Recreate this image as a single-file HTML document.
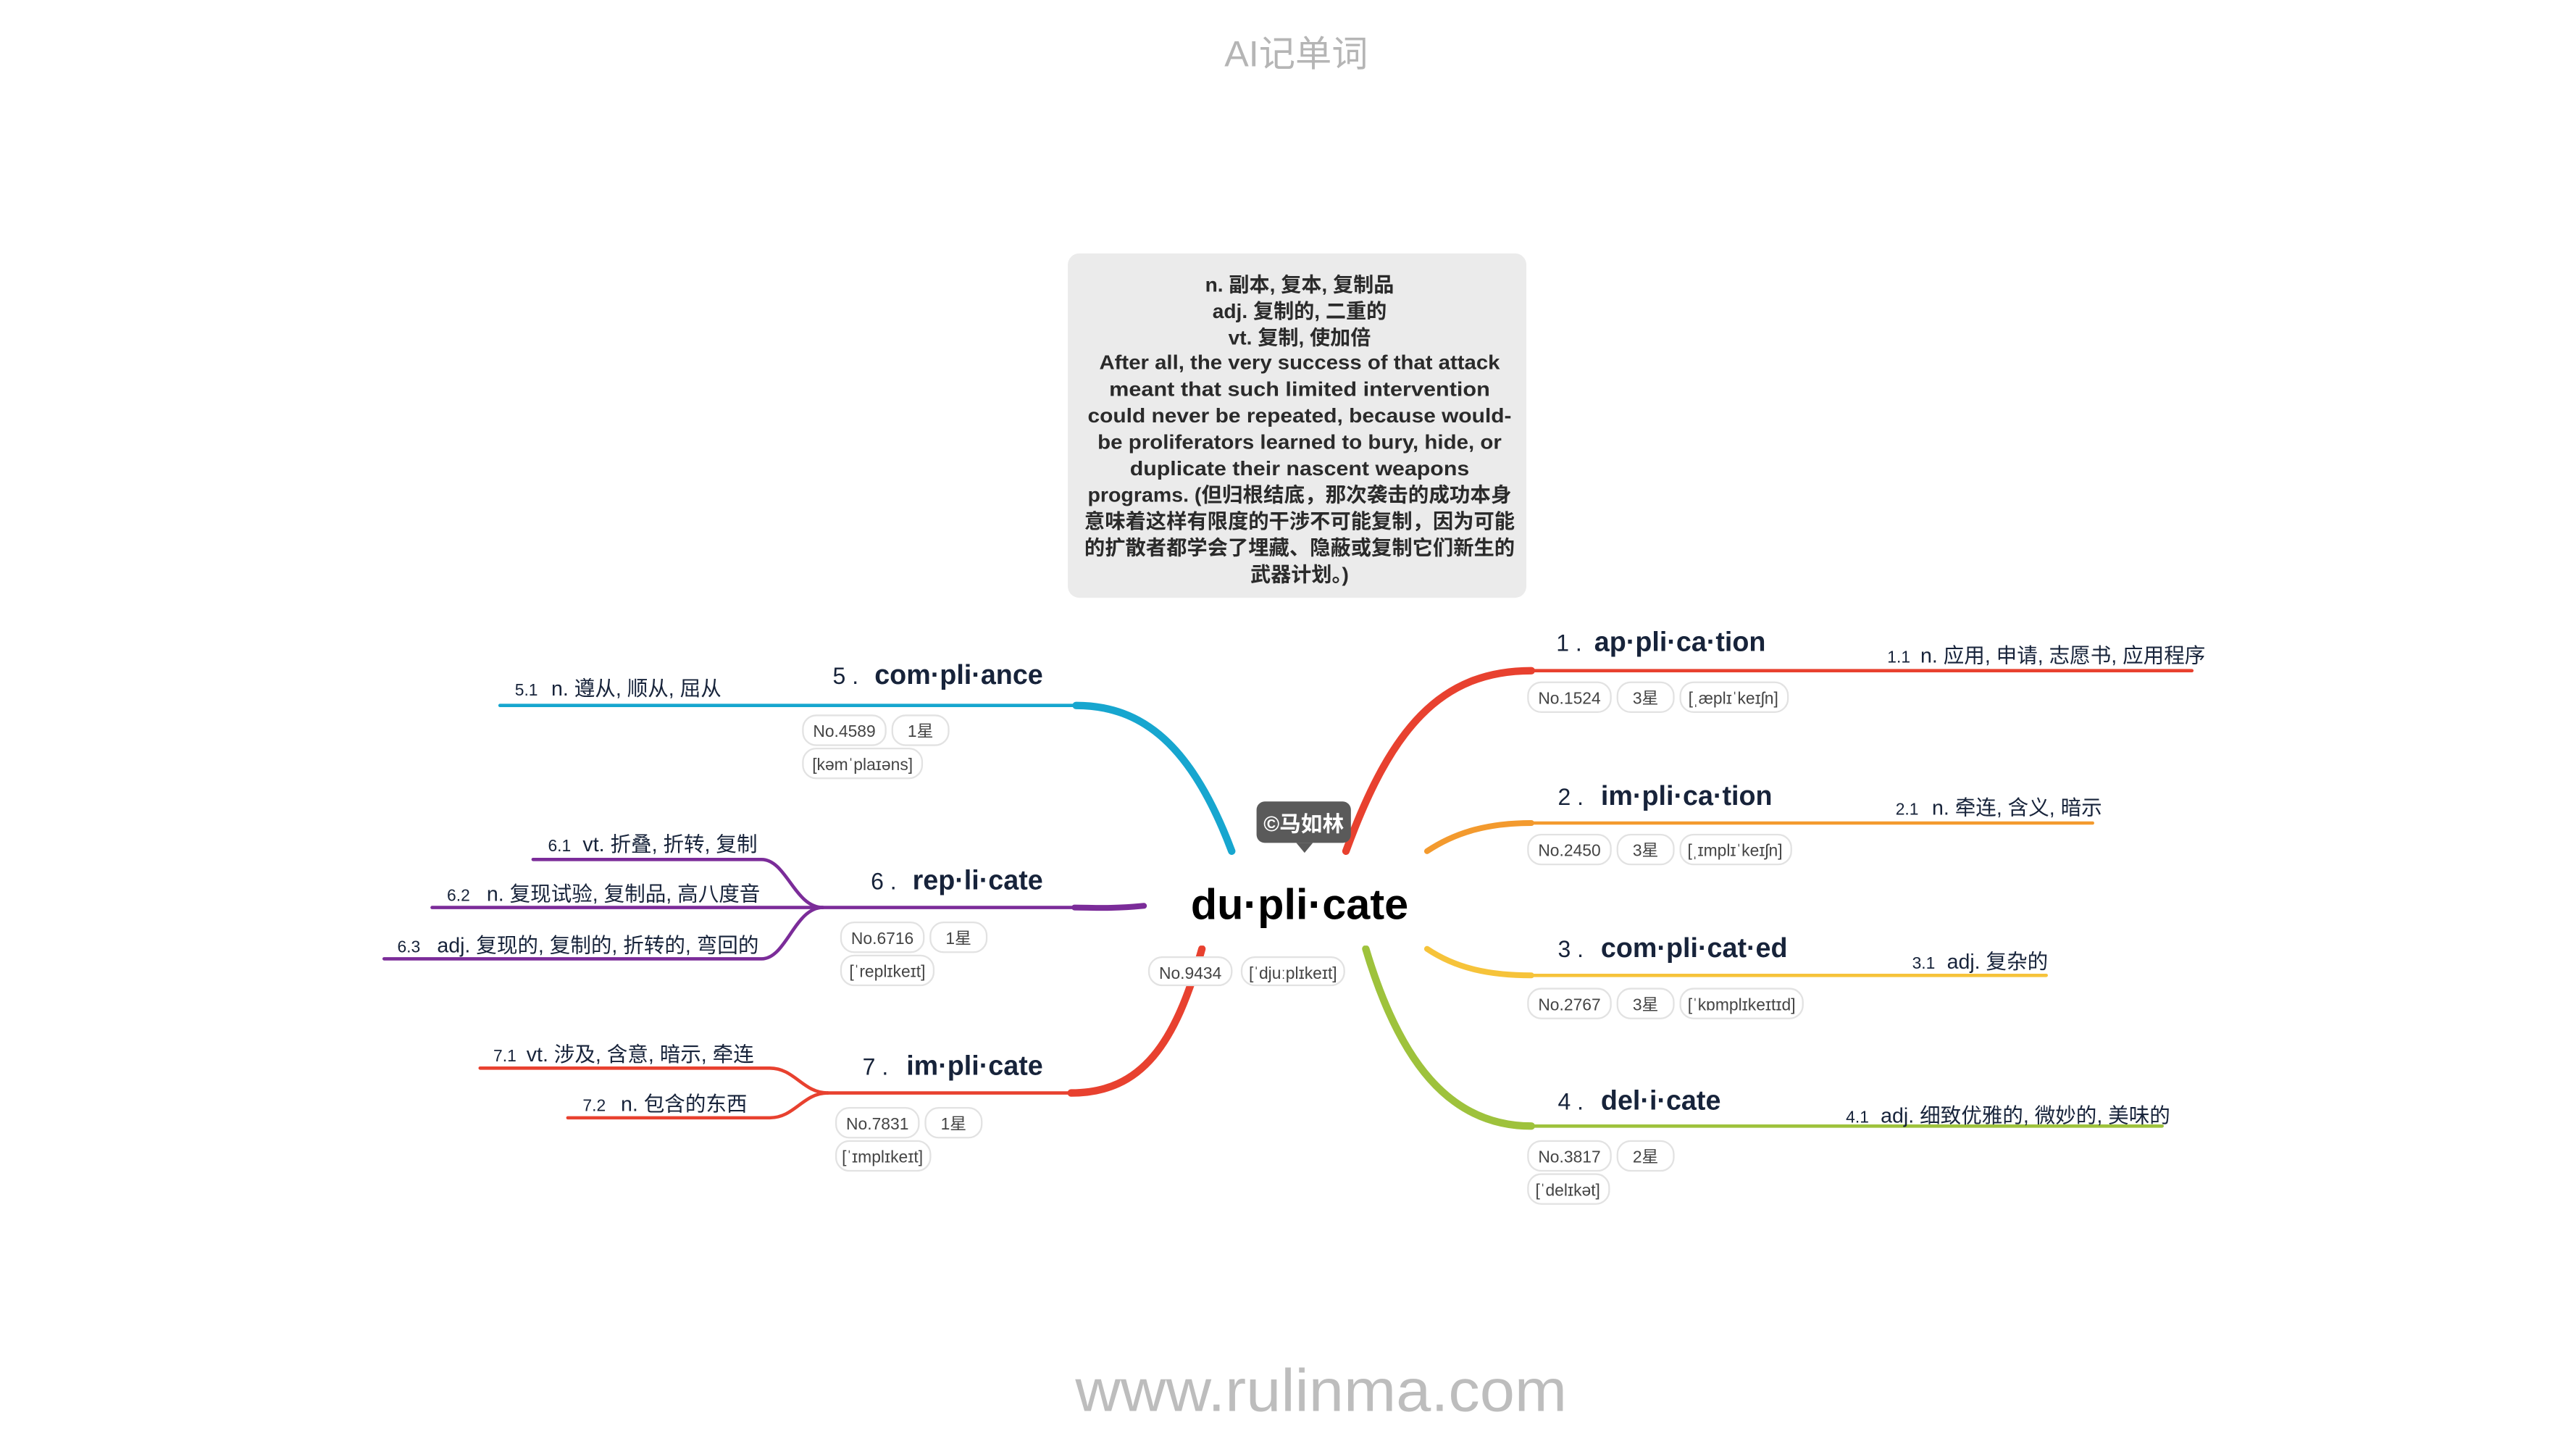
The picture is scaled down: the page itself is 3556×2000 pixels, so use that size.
<!DOCTYPE html>
<html><head><meta charset="utf-8">
<style>
html,body{margin:0;padding:0;background:#fff;}
svg{display:block;}
text{font-family:"Liberation Sans","Noto Sans CJK SC",sans-serif;}
.h{font-weight:bold;font-size:16.5px;fill:#17233a;}
.num{font-size:14px;fill:#17233a;}
.sn{font-size:10px;fill:#17233a;}
.st{font-size:12.5px;fill:#17233a;}
.pill rect{fill:#fff;stroke:#e2e2e2;stroke-width:1;}
.pill text{font-size:10px;fill:#444;text-anchor:middle;}
.box text{font-weight:bold;font-size:12.3px;fill:#2a2a2a;text-anchor:middle;}
</style></head>
<body>
<svg width="3556" height="2000" viewBox="0 0 1556 875" preserveAspectRatio="none">
<text x="783" y="40" text-anchor="middle" font-size="22" fill="#b5b5b5">AI记单词</text>

<g class="box">
<rect x="645" y="153" width="277" height="208" rx="7" fill="#ebebeb"/>
<text x="785" y="176">n. 副本, 复本, 复制品</text>
<text x="785" y="192">adj. 复制的, 二重的</text>
<text x="785" y="208">vt. 复制, 使加倍</text>
<text x="785" y="223" textLength="242" lengthAdjust="spacingAndGlyphs">After all, the very success of that attack</text>
<text x="785" y="239" textLength="230" lengthAdjust="spacingAndGlyphs">meant that such limited intervention</text>
<text x="785" y="255" textLength="256" lengthAdjust="spacingAndGlyphs">could never be repeated, because would-</text>
<text x="785" y="271" textLength="244" lengthAdjust="spacingAndGlyphs">be proliferators learned to bury, hide, or</text>
<text x="785" y="287" textLength="205" lengthAdjust="spacingAndGlyphs">duplicate their nascent weapons</text>
<text x="785" y="303" textLength="256" lengthAdjust="spacingAndGlyphs">programs. (但归根结底，那次袭击的成功本身</text>
<text x="785" y="319" textLength="260" lengthAdjust="spacingAndGlyphs">意味着这样有限度的干涉不可能复制，因为可能</text>
<text x="785" y="335" textLength="260" lengthAdjust="spacingAndGlyphs">的扩散者都学会了埋藏、隐蔽或复制它们新生的</text>
<text x="785" y="351">武器计划。)</text>
</g>

<g fill="none" stroke-linecap="round">
<path d="M813,514 C840,440 870,405 925,405" stroke="#e8412f" stroke-width="4.5"/>
<path d="M925,405 L1324,405" stroke="#e8412f" stroke-width="2"/>
<path d="M862,514 C880,502 900,497 925,497" stroke="#f39a2e" stroke-width="3.5"/>
<path d="M925,497 L1264,497" stroke="#f39a2e" stroke-width="2"/>
<path d="M862,573 C880,585 900,589 925,589" stroke="#f6c33a" stroke-width="3.5"/>
<path d="M925,589 L1236,589" stroke="#f6c33a" stroke-width="2"/>
<path d="M825,573 C845,640 875,680 925,680" stroke="#9ec23c" stroke-width="4.5"/>
<path d="M925,680 L1306,680" stroke="#9ec23c" stroke-width="2"/>
<path d="M744,514 C720,450 690,426 650,426" stroke="#17a6cf" stroke-width="4.5"/>
<path d="M650,426 L302,426" stroke="#17a6cf" stroke-width="2"/>
<path d="M691,547 C670,549 660,548 649,548" stroke="#7b2c99" stroke-width="3.5"/>
<path d="M649,548 L497,548 L261,548" stroke="#7b2c99" stroke-width="2"/>
<path d="M497,548 C480,548 475,519 460,519 L322,519" stroke="#7b2c99" stroke-width="2"/>
<path d="M497,548 C480,548 475,579 460,579 L232,579" stroke="#7b2c99" stroke-width="2"/>
<path d="M726,573 C710,630 690,660 647,660" stroke="#e8412f" stroke-width="4.5"/>
<path d="M647,660 L500,660" stroke="#e8412f" stroke-width="2"/>
<path d="M500,660 C485,660 480,645 465,645 L290,645" stroke="#e8412f" stroke-width="2"/>
<path d="M500,660 C485,660 480,675 465,675 L343,675" stroke="#e8412f" stroke-width="2"/>
</g>

<rect x="700" y="519" width="176" height="52" fill="#fff"/>
<text x="785" y="555" text-anchor="middle" font-weight="bold" font-size="26" fill="#000">du·pli·cate</text>
<g>
<rect x="759" y="484" width="57" height="25" rx="5" fill="#5a5a5a"/>
<path d="M783,509 L788,515 L793,509 Z" fill="#5a5a5a"/>
<text x="787.5" y="502" text-anchor="middle" font-weight="bold" font-size="13" fill="#fff">©马如林</text>
</g>
<g class="pill"><rect x="694" y="578" width="50" height="17" rx="8"/><text x="719" y="591">No.9434</text></g>
<g class="pill"><rect x="750" y="578" width="62" height="17" rx="8"/><text x="781" y="591">[ˈdjuːplɪkeɪt]</text></g>

<g>
<text x="940" y="393" class="num">1 .</text><text x="963" y="393" class="h">ap·pli·ca·tion</text>
<text x="1140" y="400" class="sn">1.1</text><text x="1160" y="400" class="st">n. 应用, 申请, 志愿书, 应用程序</text>
<g class="pill"><rect x="923" y="412" width="50" height="18" rx="8"/><text x="948" y="425">No.1524</text>
<rect x="977" y="412" width="34" height="18" rx="8"/><text x="994" y="425">3星</text>
<rect x="1015" y="412" width="65" height="18" rx="8"/><text x="1047" y="425">[ˌæplɪˈkeɪʃn]</text></g>
</g>
<g>
<text x="941" y="486" class="num">2 .</text><text x="967" y="486" class="h">im·pli·ca·tion</text>
<text x="1145" y="492" class="sn">2.1</text><text x="1167" y="492" class="st">n. 牵连, 含义, 暗示</text>
<g class="pill"><rect x="923" y="504" width="50" height="18" rx="8"/><text x="948" y="517">No.2450</text>
<rect x="977" y="504" width="34" height="18" rx="8"/><text x="994" y="517">3星</text>
<rect x="1015" y="504" width="67" height="18" rx="8"/><text x="1048" y="517">[ˌɪmplɪˈkeɪʃn]</text></g>
</g>
<g>
<text x="941" y="578" class="num">3 .</text><text x="967" y="578" class="h">com·pli·cat·ed</text>
<text x="1155" y="585" class="sn">3.1</text><text x="1176" y="585" class="st">adj. 复杂的</text>
<g class="pill"><rect x="923" y="597" width="50" height="18" rx="8"/><text x="948" y="610">No.2767</text>
<rect x="977" y="597" width="34" height="18" rx="8"/><text x="994" y="610">3星</text>
<rect x="1015" y="597" width="74" height="18" rx="8"/><text x="1052" y="610">[ˈkɒmplɪkeɪtɪd]</text></g>
</g>
<g>
<text x="941" y="670" class="num">4 .</text><text x="967" y="670" class="h">del·i·cate</text>
<text x="1115" y="678" class="sn">4.1</text><text x="1136" y="678" class="st">adj. 细致优雅的, 微妙的, 美味的</text>
<g class="pill"><rect x="923" y="689" width="50" height="18" rx="8"/><text x="948" y="702">No.3817</text>
<rect x="977" y="689" width="34" height="18" rx="8"/><text x="994" y="702">2星</text>
<rect x="923" y="709" width="49" height="18" rx="8"/><text x="947" y="722">[ˈdelɪkət]</text></g>
</g>

<g>
<text x="503" y="413" class="num">5 .</text><text x="630" y="413" class="h" text-anchor="end">com·pli·ance</text>
<text x="311" y="420" class="sn">5.1</text><text x="333" y="420" class="st">n. 遵从, 顺从, 屈从</text>
<g class="pill"><rect x="485" y="432" width="50" height="18" rx="8"/><text x="510" y="445">No.4589</text>
<rect x="539" y="432" width="34" height="18" rx="8"/><text x="556" y="445">1星</text>
<rect x="485" y="452" width="72" height="18" rx="8"/><text x="521" y="465">[kəmˈplaɪəns]</text></g>
</g>
<g>
<text x="526" y="537" class="num">6 .</text><text x="630" y="537" class="h" text-anchor="end">rep·li·cate</text>
<text x="331" y="514" class="sn">6.1</text><text x="352" y="514" class="st">vt. 折叠, 折转, 复制</text>
<text x="270" y="544" class="sn">6.2</text><text x="294" y="544" class="st">n. 复现试验, 复制品, 高八度音</text>
<text x="240" y="575" class="sn">6.3</text><text x="264" y="575" class="st">adj. 复现的, 复制的, 折转的, 弯回的</text>
<g class="pill"><rect x="508" y="557" width="50" height="18" rx="8"/><text x="533" y="570">No.6716</text>
<rect x="562" y="557" width="34" height="18" rx="8"/><text x="579" y="570">1星</text>
<rect x="508" y="577" width="56" height="18" rx="8"/><text x="536" y="590">[ˈreplɪkeɪt]</text></g>
</g>
<g>
<text x="521" y="649" class="num">7 .</text><text x="630" y="649" class="h" text-anchor="end">im·pli·cate</text>
<text x="298" y="641" class="sn">7.1</text><text x="318" y="641" class="st">vt. 涉及, 含意, 暗示, 牵连</text>
<text x="352" y="671" class="sn">7.2</text><text x="375" y="671" class="st">n. 包含的东西</text>
<g class="pill"><rect x="505" y="669" width="50" height="18" rx="8"/><text x="530" y="682">No.7831</text>
<rect x="559" y="669" width="34" height="18" rx="8"/><text x="576" y="682">1星</text>
<rect x="505" y="689" width="57" height="18" rx="8"/><text x="533" y="702">[ˈɪmplɪkeɪt]</text></g>
</g>

<text x="798" y="852" text-anchor="middle" font-size="36" fill="#bdbdbd" textLength="297" lengthAdjust="spacingAndGlyphs">www.rulinma.com</text>
</svg>
</body></html>
